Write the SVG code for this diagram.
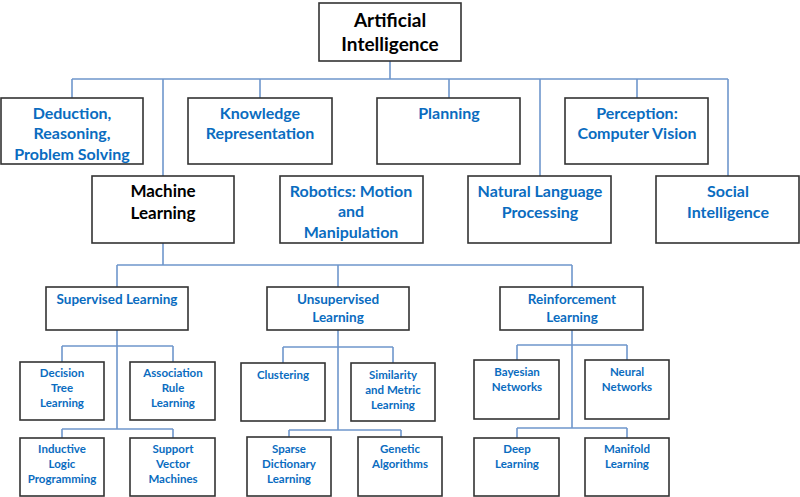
<svg xmlns="http://www.w3.org/2000/svg" width="800" height="497" viewBox="0 0 800 497">
<style>
.box{fill:#fff;stroke:#333;stroke-width:1.6}
.c{fill:none;stroke:#6f97cc;stroke-width:1.6}
text{font-family:Lato,"Open Sans","Liberation Sans",sans-serif;font-weight:bold;text-anchor:middle}
.k1{font-size:19px;fill:#000}
.k2{font-size:17px;fill:#000}
.b1{font-size:16px;fill:#0a6cc0}
.b2{font-size:13.5px;fill:#0a6cc0}
.b3{font-size:11.5px;fill:#0a6cc0}
</style>
<rect width="800" height="497" fill="#fff"/>
<g id="connectors">
<path class="c" d="M390 61V79M72 79H728M72 79V98M163 79V176M260 79V98M449 79V98M540 79V176M637 79V98M728 79V176"/>
<path class="c" d="M163 243V265M117 265H572M117 265V287M338 265V287M572 265V287"/>
<path class="c" d="M117 330V429M62 346H173M62 346V362M173 346V362M62 429H173M62 429V438M173 429V438"/>
<path class="c" d="M338 330V430M283 347H393M283 347V363M393 347V363M289 430H401M289 430V437M401 430V437"/>
<path class="c" d="M572 330V428M517 345H627M517 345V360M627 345V360M517 428H627M517 428V438M627 428V438"/>
</g>
<g id="ai"><rect class="box" x="319" y="3" width="142" height="58"/><text class="k1" x="390" y="27">Artificial</text><text class="k1" x="390" y="51">Intelligence</text></g>
<g id="deduction"><rect class="box" x="1" y="98" width="142" height="66"/><text class="b1" x="72" y="119">Deduction,</text><text class="b1" x="72" y="139">Reasoning,</text><text class="b1" x="72" y="160">Problem Solving</text></g>
<g id="knowledge"><rect class="box" x="188" y="98" width="144" height="66"/><text class="b1" x="260" y="119">Knowledge</text><text class="b1" x="260" y="139">Representation</text></g>
<g id="planning"><rect class="box" x="377" y="98" width="143" height="66"/><text class="b1" x="449" y="119">Planning</text></g>
<g id="perception"><rect class="box" x="565" y="98" width="143" height="66"/><text class="b1" x="637" y="119">Perception:</text><text class="b1" x="637" y="139">Computer Vision</text></g>
<g id="ml"><rect class="box" x="92" y="176" width="142" height="67"/><text class="k2" x="163" y="197">Machine</text><text class="k2" x="163" y="219">Learning</text></g>
<g id="robotics"><rect class="box" x="280" y="176" width="143" height="67"/><text class="b1" x="351" y="197">Robotics: Motion</text><text class="b1" x="351" y="217">and</text><text class="b1" x="351" y="238">Manipulation</text></g>
<g id="nlp"><rect class="box" x="468" y="176" width="143" height="67"/><text class="b1" x="540" y="197">Natural Language</text><text class="b1" x="540" y="218">Processing</text></g>
<g id="social"><rect class="box" x="656" y="176" width="143" height="67"/><text class="b1" x="728" y="197">Social</text><text class="b1" x="728" y="218">Intelligence</text></g>
<g id="supervised"><rect class="box" x="46" y="287" width="142" height="43"/><text class="b2" x="117" y="304">Supervised Learning</text></g>
<g id="unsupervised"><rect class="box" x="267" y="287" width="142" height="43"/><text class="b2" x="338" y="304">Unsupervised</text><text class="b2" x="338" y="322">Learning</text></g>
<g id="reinforcement"><rect class="box" x="500" y="287" width="143" height="43"/><text class="b2" x="572" y="304">Reinforcement</text><text class="b2" x="572" y="322">Learning</text></g>
<g id="decision"><rect class="box" x="20" y="362" width="84" height="58"/><text class="b3" x="62" y="377">Decision</text><text class="b3" x="62" y="392">Tree</text><text class="b3" x="62" y="407">Learning</text></g>
<g id="association"><rect class="box" x="130" y="362" width="85" height="58"/><text class="b3" x="173" y="377">Association</text><text class="b3" x="173" y="392">Rule</text><text class="b3" x="173" y="407">Learning</text></g>
<g id="inductive"><rect class="box" x="20" y="438" width="84" height="58"/><text class="b3" x="62" y="453">Inductive</text><text class="b3" x="62" y="468">Logic</text><text class="b3" x="62" y="483">Programming</text></g>
<g id="svm"><rect class="box" x="130" y="438" width="85" height="58"/><text class="b3" x="173" y="453">Support</text><text class="b3" x="173" y="468">Vector</text><text class="b3" x="173" y="483">Machines</text></g>
<g id="clustering"><rect class="box" x="241" y="363" width="84" height="58"/><text class="b3" x="283" y="379">Clustering</text></g>
<g id="similarity"><rect class="box" x="351" y="363" width="84" height="58"/><text class="b3" x="393" y="379">Similarity</text><text class="b3" x="393" y="394">and Metric</text><text class="b3" x="393" y="409">Learning</text></g>
<g id="sparse"><rect class="box" x="247" y="437" width="84" height="59"/><text class="b3" x="289" y="453">Sparse</text><text class="b3" x="289" y="468">Dictionary</text><text class="b3" x="289" y="483">Learning</text></g>
<g id="genetic"><rect class="box" x="358" y="437" width="84" height="59"/><text class="b3" x="400" y="453">Genetic</text><text class="b3" x="400" y="468">Algorithms</text></g>
<g id="bayesian"><rect class="box" x="474" y="360" width="85" height="59"/><text class="b3" x="517" y="376">Bayesian</text><text class="b3" x="517" y="391">Networks</text></g>
<g id="neural"><rect class="box" x="585" y="360" width="84" height="59"/><text class="b3" x="627" y="376">Neural</text><text class="b3" x="627" y="391">Networks</text></g>
<g id="deep"><rect class="box" x="474" y="438" width="85" height="58"/><text class="b3" x="517" y="453">Deep</text><text class="b3" x="517" y="468">Learning</text></g>
<g id="manifold"><rect class="box" x="585" y="438" width="84" height="58"/><text class="b3" x="627" y="453">Manifold</text><text class="b3" x="627" y="468">Learning</text></g>
</svg>
